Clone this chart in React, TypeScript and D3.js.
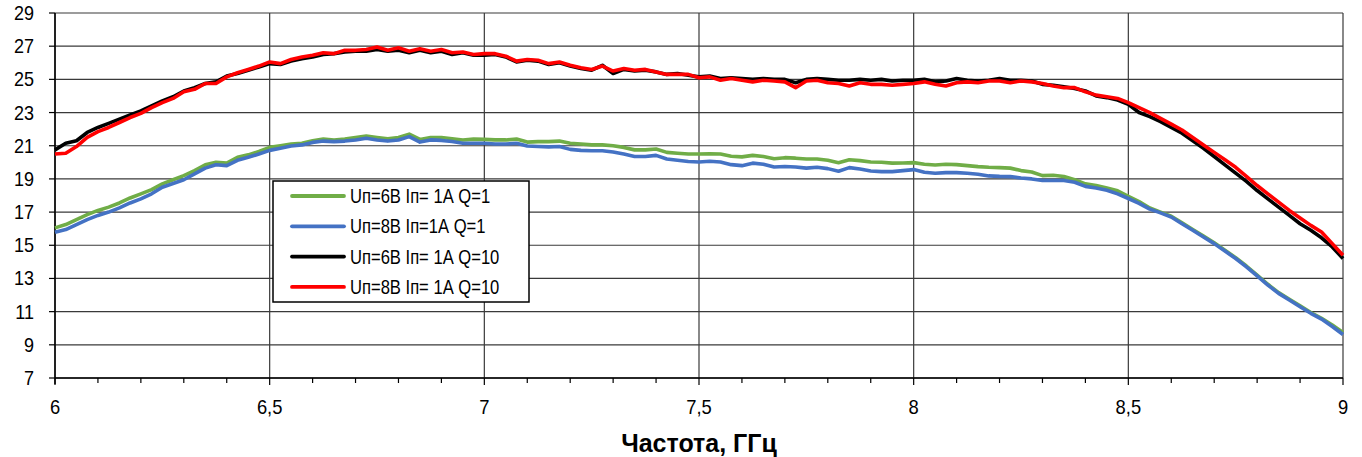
import React from 'react';
import * as d3 from 'd3';

// frequency grid, GHz (step 0.025)
const freq = d3.range(0, 121).map((i) => 6 + i * 0.025);

const greenQ1 = [
  16.05, 16.25, 16.55, 16.85, 17.1, 17.3, 17.55, 17.85, 18.1, 18.35,
  18.7, 18.95, 19.2, 19.5, 19.85, 20.0, 19.95, 20.3, 20.45, 20.65,
  20.9, 21.0, 21.1, 21.15, 21.3, 21.4, 21.35, 21.4, 21.5, 21.58,
  21.5, 21.42, 21.5, 21.7, 21.38, 21.5, 21.5, 21.42, 21.35, 21.4,
  21.38, 21.35, 21.35, 21.4, 21.22, 21.25, 21.25, 21.28, 21.15, 21.1,
  21.05, 21.05, 21.0, 20.9, 20.75, 20.75, 20.8, 20.6, 20.55, 20.5,
  20.5, 20.52, 20.5, 20.37, 20.33, 20.42, 20.35, 20.22, 20.28, 20.25,
  20.2, 20.2, 20.12, 19.98, 20.15, 20.1, 20.02, 20.0, 19.95, 19.96,
  19.98, 19.88, 19.84, 19.88, 19.86, 19.8, 19.74, 19.7, 19.68, 19.65,
  19.5, 19.42, 19.2, 19.22, 19.15, 18.95, 18.7, 18.6, 18.45, 18.28,
  17.95, 17.63, 17.25, 17.0, 16.75, 16.35, 15.95, 15.55, 15.15, 14.7,
  14.25, 13.75, 13.2, 12.65, 12.15, 11.75, 11.35, 10.95, 10.6, 10.2,
  9.75,
];

const blueQ1 = [
  15.78, 15.95, 16.25, 16.55, 16.8, 17.0, 17.25, 17.55, 17.8, 18.1,
  18.5, 18.72, 18.95, 19.3, 19.65, 19.85, 19.8, 20.12, 20.3, 20.5,
  20.72, 20.85, 20.98, 21.05, 21.2, 21.28, 21.25, 21.28, 21.35, 21.45,
  21.35, 21.28, 21.35, 21.55, 21.22, 21.35, 21.32, 21.25, 21.15, 21.15,
  21.15, 21.1, 21.1, 21.15, 20.98, 20.95, 20.93, 20.95, 20.78, 20.72,
  20.7, 20.7, 20.62, 20.5, 20.35, 20.35, 20.42, 20.2, 20.12, 20.05,
  20.02, 20.06, 20.02, 19.86, 19.8, 19.95, 19.88, 19.72, 19.75, 19.72,
  19.65, 19.7, 19.62, 19.46, 19.68, 19.6, 19.48, 19.44, 19.44, 19.5,
  19.56, 19.4, 19.34, 19.38, 19.38, 19.34, 19.28, 19.18, 19.15, 19.14,
  19.05, 19.0, 18.9, 18.9, 18.9, 18.8, 18.55, 18.45, 18.32, 18.1,
  17.82, 17.53, 17.18, 16.95, 16.7, 16.3, 15.9, 15.5, 15.1, 14.65,
  14.2, 13.7, 13.15, 12.6, 12.1, 11.7, 11.3, 10.9, 10.55, 10.1,
  9.62,
];

const blackQ10 = [
  20.75, 21.15, 21.3, 21.8, 22.1, 22.35, 22.6, 22.85, 23.1, 23.4,
  23.7, 23.95, 24.3, 24.5, 24.75, 24.85, 25.2, 25.35, 25.55, 25.75,
  25.95, 25.9, 26.1, 26.25, 26.35, 26.5, 26.55, 26.65, 26.7, 26.7,
  26.8, 26.7, 26.75, 26.6, 26.75, 26.6, 26.7, 26.5, 26.6, 26.45,
  26.45, 26.5, 26.35, 26.05, 26.15, 26.1, 25.9, 26.0, 25.8, 25.65,
  25.55, 25.85, 25.35, 25.6, 25.5, 25.55, 25.45, 25.3, 25.35, 25.25,
  25.15, 25.2, 25.05, 25.1, 25.05, 25.0, 25.05, 25.0, 25.0, 24.8,
  25.0, 25.05, 25.0, 24.95, 24.95, 25.0, 24.95, 25.0, 24.9, 24.95,
  24.95, 25.0, 24.85, 24.9, 25.05, 24.95, 24.9, 24.95, 25.05, 24.95,
  24.95, 24.9, 24.7, 24.65, 24.55, 24.45, 24.3, 24.0, 23.9, 23.75,
  23.5, 23.0, 22.75, 22.45, 22.1, 21.75, 21.3, 20.85, 20.35, 19.85,
  19.35, 18.85, 18.3, 17.8, 17.3, 16.8, 16.3, 15.9, 15.45, 14.9,
  14.2,
];

const redQ10 = [
  20.5, 20.55, 20.95, 21.5, 21.85, 22.1, 22.4, 22.7, 22.95, 23.3,
  23.6, 23.85, 24.25, 24.4, 24.75, 24.75, 25.15, 25.4, 25.6, 25.8,
  26.05, 25.95, 26.2, 26.35, 26.45, 26.6, 26.55, 26.75, 26.75, 26.8,
  26.95, 26.75, 26.9, 26.7, 26.85, 26.7, 26.8, 26.6, 26.65, 26.5,
  26.55, 26.55, 26.4, 26.1, 26.2, 26.15, 25.95, 26.05, 25.85, 25.7,
  25.6, 25.8, 25.5, 25.65, 25.55, 25.6, 25.45, 25.3, 25.3, 25.3,
  25.1, 25.15, 24.95, 25.05, 24.95, 24.85, 24.95, 24.9, 24.85, 24.5,
  24.9, 24.95, 24.8, 24.75, 24.6, 24.8, 24.7, 24.7, 24.65, 24.7,
  24.75, 24.85, 24.7, 24.6, 24.8, 24.85, 24.8, 24.9, 24.9, 24.8,
  24.9, 24.85, 24.75, 24.6, 24.5, 24.5, 24.25, 24.05, 23.95, 23.85,
  23.6, 23.3, 23.0, 22.65, 22.3, 21.95, 21.5, 21.05, 20.6, 20.15,
  19.7, 19.15, 18.6, 18.1, 17.6, 17.1, 16.65, 16.2, 15.8, 15.1,
  14.4,
];

const yTicks = [7, 9, 11, 13, 15, 17, 19, 21, 23, 25, 27, 29];
const xTicks = [6, 6.5, 7, 7.5, 8, 8.5, 9];
const xMinor = d3.range(0, 31).map((i) => 6 + i * 0.1);

const series = [
  { name: 'Uп=6В Iп= 1А Q=1', color: '#70ad47', values: greenQ1 },
  { name: 'Uп=8В Iп=1А Q=1', color: '#4472c4', values: blueQ1 },
  { name: 'Uп=6В Iп= 1А Q=10', color: '#000000', values: blackQ10 },
  { name: 'Uп=8В Iп= 1А Q=10', color: '#ff0000', values: redQ10 },
];

const font = '"Liberation Sans", Arial, sans-serif';

export default function App() {
  const width = 1362;
  const height = 457;
  const left = 55, right = 1343, top = 13, bottom = 378;

  const x = d3.scaleLinear().domain([6, 9]).range([left, right]);
  const y = d3.scaleLinear().domain([7, 29]).range([bottom, top]);

  const line = d3
    .line<number>()
    .x((d, i) => x(freq[i]))
    .y((d) => y(d));

  const legX = 273, legY = 181, legW = 256, legH = 121;

  return (
    <svg
      width={width}
      height={height}
      style={{ position: 'absolute', left: 0, top: 0, background: '#fff' }}
    >
      {/* grid */}
      {yTicks.map((t) => (
        <line key={'gy' + t} x1={left} x2={right} y1={y(t)} y2={y(t)} stroke="#3a3a3a" strokeWidth={1.2} />
      ))}
      {xTicks.map((t) => (
        <line key={'gx' + t} x1={x(t)} x2={x(t)} y1={top} y2={bottom} stroke="#3a3a3a" strokeWidth={1.2} />
      ))}

      {/* y axis */}
      <line x1={left} x2={left} y1={top} y2={bottom + 6} stroke="#000" strokeWidth={1.5} />
      {yTicks.map((t) => (
        <g key={'ty' + t}>
          <line x1={left - 6} x2={left} y1={y(t)} y2={y(t)} stroke="#000" strokeWidth={1.2} />
          <text
            transform={`translate(${left - 21},${y(t)}) scale(0.9,1)`}
            dy="0.35em"
            textAnchor="end"
            fontFamily={font}
            fontSize={20}
            fill="#000"
          >
            {t}
          </text>
        </g>
      ))}

      {/* x axis */}
      <line x1={left} x2={right} y1={bottom} y2={bottom} stroke="#000" strokeWidth={1.5} />
      {xMinor.map((t, i) => (
        <line
          key={'tm' + i}
          x1={x(t)}
          x2={x(t)}
          y1={bottom}
          y2={bottom + (i % 5 === 0 ? 7 : 5)}
          stroke="#000"
          strokeWidth={1.2}
        />
      ))}
      {xTicks.map((t) => (
        <text
          key={'tx' + t}
          transform={`translate(${x(t)},414) scale(0.92,1)`}
          textAnchor="middle"
          fontFamily={font}
          fontSize={20}
          fill="#000"
        >
          {String(t).replace('.', ',')}
        </text>
      ))}
      <text x={699} y={452} textAnchor="middle" fontFamily={font} fontSize={25} fontWeight="bold" fill="#000">
        Частота, ГГц
      </text>

      {/* curves */}
      {series.map((s) => (
        <path key={s.name} d={line(s.values) || ''} fill="none" stroke={s.color} strokeWidth={3.6} strokeLinejoin="round" />
      ))}

      {/* legend */}
      <rect x={legX} y={legY} width={legW} height={legH} fill="#fff" stroke="#000" strokeWidth={1.5} />
      {series.map((s, i) => {
        const ly = legY + 15 + i * 30.3;
        return (
          <g key={'lg' + i}>
            <line x1={legX + 19} x2={legX + 71} y1={ly} y2={ly} stroke={s.color} strokeWidth={3.8} strokeLinecap="round" />
            <text
              transform={`translate(${legX + 77},${ly}) scale(0.83,1)`}
              dy="0.35em"
              fontFamily={font}
              fontSize={20}
              fill="#000"
            >
              {s.name}
            </text>
          </g>
        );
      })}
    </svg>
  );
}
